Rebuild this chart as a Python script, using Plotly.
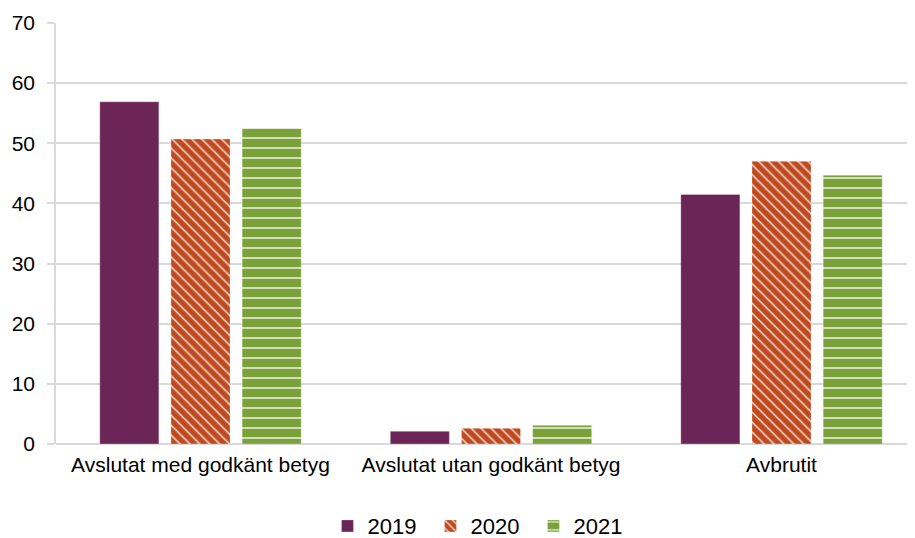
import plotly.graph_objects as go

categories = ["Avslutat med godkänt betyg", "Avslutat utan godkänt betyg", "Avbrutit"]
years = ["2019", "2020", "2021"]
values_2019 = [56.9, 2.1, 41.5]
values_2020 = [50.7, 2.6, 47.0]
values_2021 = [52.5, 3.1, 44.7]
y_ticks = [0, 10, 20, 30, 40, 50, 60, 70]

series = [values_2019, values_2020, values_2021]
colors = ["#6B2557", "#BF4A1F", "#7BA23A"]
patterns = [
    dict(shape=""),
    dict(shape="\\", fgcolor="#F4DCD2", bgcolor="#BF4A1F", size=7, solidity=0.22, fillmode="replace"),
    dict(shape="-", fgcolor="#E6EFD8", bgcolor="#7BA23A", size=10, solidity=0.16, fillmode="replace"),
]

fig = go.Figure()
for name, vals, col, pat in zip(years, series, colors, patterns):
    fig.add_trace(go.Bar(
        x=categories, y=vals, name=name,
        marker=dict(color=col, pattern=pat, line=dict(color="rgba(255,255,255,0.5)", width=0.6)),
    ))

FONT = "Liberation Sans, Arial, sans-serif"
fig.update_layout(
    width=915, height=538,
    margin=dict(l=48, r=0, t=14.5, b=101.5, autoexpand=False),
    paper_bgcolor="white", plot_bgcolor="white",
    barmode="group", bargap=0.265, bargroupgap=0.17,
    font=dict(family=FONT, size=21, color="black"),
    legend=dict(orientation="h", xref="container", yref="container",
                x=0.518, xanchor="center", y=0.037, yanchor="middle",
                entrywidth=58, entrywidthmode="pixels",
                font=dict(size=22), traceorder="normal"),
    xaxis=dict(type="category", range=[-0.4974, 2.487], showgrid=False, automargin=False,
               showline=False, ticks="", tickfont=dict(size=21), ticklabelstandoff=6),
    yaxis=dict(range=[0, 70], tickvals=y_ticks, showgrid=True, gridcolor="#D9D9D9", gridwidth=1.5,
               automargin=False,
               showline=True, linecolor="#D9D9D9", linewidth=1.5,
               ticks="outside", ticklen=7, tickcolor="#D9D9D9", tickwidth=1.5,
               zeroline=True, zerolinecolor="#D9D9D9", zerolinewidth=1.5,
               tickfont=dict(size=21), ticklabelstandoff=8),
)

fig.write_html("out.html")
